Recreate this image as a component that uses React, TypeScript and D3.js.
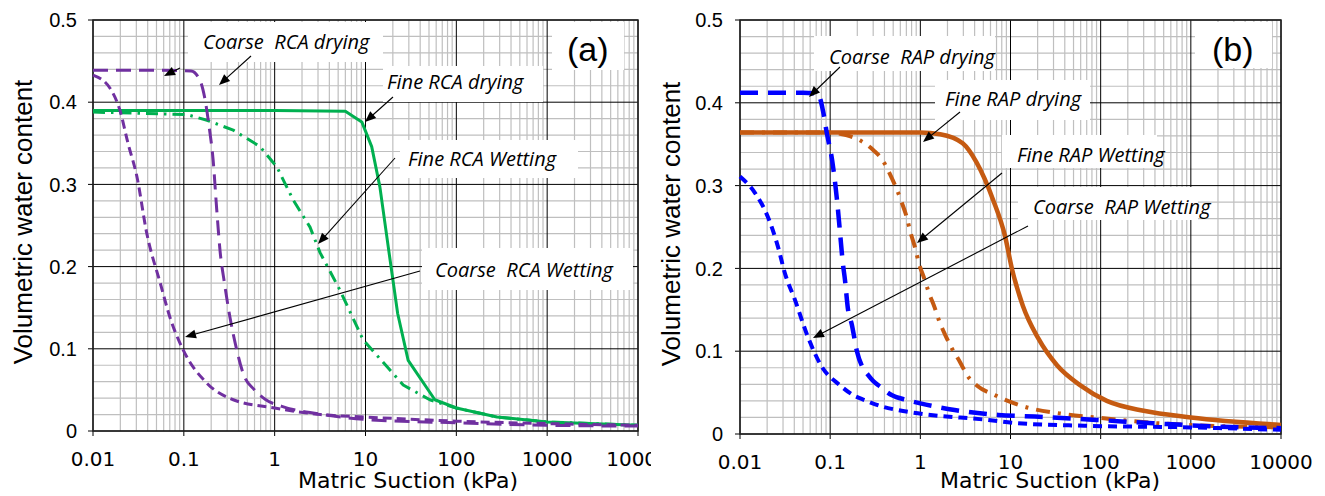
import React from "react";
import * as d3 from "d3";

// ---------- axis ticks ----------
const X_TICKS = [0.01, 0.1, 1, 10, 100, 1000, 10000];
const X_TICK_LABELS = ["0.01", "0.1", "1", "10", "100", "1000", "10000"];
const Y_TICKS = [0, 0.1, 0.2, 0.3, 0.4, 0.5];
const Y_TICK_LABELS = ["0", "0.1", "0.2", "0.3", "0.4", "0.5"];

// ---------- panel (a) RCA ----------
const coarseRcaDryingSuction = [0.01, 0.05, 0.12, 0.15, 0.17, 0.19, 0.21, 0.23, 0.25, 0.28, 0.32, 0.38, 0.45, 0.6, 0.8, 1.2, 3, 10, 100, 1000, 10000];
const coarseRcaDryingTheta = [0.439, 0.439, 0.438, 0.427, 0.405, 0.37, 0.33, 0.27, 0.22, 0.18, 0.14, 0.1, 0.07, 0.05, 0.038, 0.03, 0.021, 0.014, 0.01, 0.007, 0.006];

const coarseRcaWettingSuction = [0.01, 0.0154, 0.0198, 0.0243, 0.0305, 0.039, 0.055, 0.07, 0.098, 0.18, 0.35, 1, 3.2, 10, 100, 1000, 10000];
const coarseRcaWettingTheta = [0.433, 0.417, 0.39, 0.35, 0.309, 0.241, 0.18, 0.139, 0.099, 0.058, 0.038, 0.028, 0.02, 0.017, 0.012, 0.009, 0.007];

const fineRcaDryingSuction = [0.01, 1, 6, 9.1, 11.7, 14.4, 17.8, 22.6, 29.5, 58, 100, 280, 1000, 10000];
const fineRcaDryingTheta = [0.39, 0.39, 0.389, 0.376, 0.346, 0.297, 0.224, 0.143, 0.086, 0.038, 0.028, 0.017, 0.011, 0.007];

const fineRcaWettingSuction = [0.01, 0.108, 0.18, 0.35, 0.69, 1.06, 1.6, 2.45, 3.16, 5.2, 9.4, 26, 51, 100, 280, 1000, 10000];
const fineRcaWettingTheta = [0.388, 0.385, 0.378, 0.366, 0.346, 0.321, 0.281, 0.248, 0.217, 0.172, 0.111, 0.056, 0.038, 0.028, 0.017, 0.011, 0.007];

// ---------- panel (b) RAP ----------
const coarseRapDryingSuction = [0.01, 0.05, 0.073, 0.083, 0.092, 0.105, 0.119, 0.128, 0.138, 0.146, 0.157, 0.174, 0.198, 0.23, 0.26, 0.3, 0.36, 0.48, 0.71, 1, 2.4, 7.3, 18.6, 90, 380, 2000, 10000];
const coarseRapDryingTheta = [0.412, 0.412, 0.411, 0.391, 0.363, 0.331, 0.283, 0.246, 0.207, 0.186, 0.152, 0.132, 0.1, 0.08, 0.072, 0.064, 0.057, 0.047, 0.041, 0.037, 0.029, 0.023, 0.021, 0.017, 0.013, 0.009, 0.007];

const coarseRapWettingSuction = [0.01, 0.0147, 0.0204, 0.0264, 0.0315, 0.0407, 0.0567, 0.081, 0.128, 0.18, 0.24, 0.38, 0.56, 0.94, 5.6, 12, 66, 1000, 10000];
const coarseRapWettingTheta = [0.311, 0.291, 0.262, 0.226, 0.194, 0.162, 0.117, 0.081, 0.059, 0.047, 0.041, 0.033, 0.029, 0.025, 0.017, 0.013, 0.01, 0.008, 0.005];

const fineRapDryingSuction = [0.01, 1, 1.66, 2.95, 4.2, 6.4, 8.7, 10.4, 13.7, 20.2, 32.8, 59, 117, 300, 1000, 10000];
const fineRapDryingTheta = [0.364, 0.364, 0.362, 0.351, 0.328, 0.283, 0.239, 0.199, 0.155, 0.116, 0.083, 0.059, 0.04, 0.028, 0.02, 0.011];

const fineRapWettingSuction = [0.01, 0.1, 0.15, 0.22, 0.3, 0.38, 0.46, 0.55, 0.62, 0.71, 0.78, 0.87, 0.96, 1.12, 1.24, 1.45, 1.6, 1.88, 2.25, 2.75, 3.3, 4.3, 6.7, 13.3, 40, 88, 430, 10000];
const fineRapWettingTheta = [0.364, 0.364, 0.361, 0.354, 0.343, 0.331, 0.314, 0.295, 0.28, 0.261, 0.243, 0.226, 0.207, 0.186, 0.171, 0.152, 0.138, 0.12, 0.103, 0.087, 0.071, 0.058, 0.047, 0.034, 0.024, 0.02, 0.013, 0.008];

// ---------- annotation texts ----------
const rcaLabels = ["Coarse  RCA drying", "Fine RCA drying", "Fine RCA Wetting", "Coarse  RCA Wetting"];
const rapLabels = ["Coarse  RAP drying", "Fine RAP drying", "Fine RAP Wetting", "Coarse  RAP Wetting"];

const PURPLE = "#7030A0";
const GREEN = "#00B050";
const BLUE = "#0000FF";
const ORANGE = "#C55A11";

type Series = { xs: number[]; ys: number[]; color: string; width: number; dash?: string; curve: d3.CurveFactory };
type Box = { x: number; y: number; w: number; h: number };
type Arrow = [number, number, number, number];
type TextPos = { x: number; y: number };

type PanelProps = {
  L: number; R: number; T: number; B: number;
  series: Series[];
  labels: string[];
  labelPos: TextPos[];
  boxes: Box[];
  arrows: Arrow[];
  tag: string;
  tagPos: TextPos;
  tagBox: Box;
  yTitlePos: TextPos;
  xTitlePos: TextPos;
  xTickBaseline: number;
  yTickGap: number;
  clipRight: number;
  id: string;
};

function ArrowMark({ a }: { a: Arrow }) {
  const [x1, y1, x2, y2] = a;
  const dx = x2 - x1, dy = y2 - y1;
  const len = Math.hypot(dx, dy);
  const ux = dx / len, uy = dy / len;
  const hl = 11, hw = 4.5;
  const bx = x2 - ux * hl, by = y2 - uy * hl;
  const px = -uy, py = ux;
  const pts = `${x2},${y2} ${bx + px * hw},${by + py * hw} ${bx - px * hw},${by - py * hw}`;
  return (
    <g>
      <line x1={x1} y1={y1} x2={bx + ux * 2} y2={by + uy * 2} stroke="#000" strokeWidth={1.1} />
      <polygon points={pts} fill="#000" />
    </g>
  );
}

function Panel(p: PanelProps) {
  const x = d3.scaleLog().domain([0.01, 10000]).range([p.L, p.R]);
  const y = d3.scaleLinear().domain([0, 0.5]).range([p.B, p.T]);
  const minorX: number[] = [];
  for (let e = -2; e < 4; e++) for (let m = 2; m <= 9; m++) minorX.push(m * Math.pow(10, e));
  const minorY = d3.range(0, 26).filter((i) => i % 5 !== 0).map((i) => i * 0.02);

  return (
    <g clipPath={`url(#${p.id})`}>
      <defs>
        <clipPath id={p.id}>
          <rect x={p.L - 100} y={0} width={p.clipRight - (p.L - 100)} height={496} />
        </clipPath>
      </defs>
      {/* minor grid */}
      {minorX.map((v, i) => (
        <line key={"mx" + i} x1={x(v)} x2={x(v)} y1={p.T} y2={p.B} stroke="#BFBFBF" strokeWidth={1.2} />
      ))}
      {minorY.map((v, i) => (
        <line key={"my" + i} x1={p.L} x2={p.R} y1={y(v)} y2={y(v)} stroke="#BFBFBF" strokeWidth={1.2} />
      ))}
      {/* major grid */}
      {X_TICKS.map((v, i) => (
        <line key={"Mx" + i} x1={x(v)} x2={x(v)} y1={p.T} y2={p.B + 5} stroke="#000" strokeWidth={1} />
      ))}
      {Y_TICKS.map((v, i) => (
        <line key={"My" + i} x1={p.L - 5} x2={p.R} y1={y(v)} y2={y(v)} stroke="#000" strokeWidth={1} />
      ))}
      {/* frame */}
      <rect x={p.L} y={p.T} width={p.R - p.L} height={p.B - p.T} fill="none" stroke="#222" strokeWidth={1.5} />
      {/* white label boxes */}
      {p.boxes.map((b, i) => (
        <rect key={"b" + i} x={b.x} y={b.y} width={b.w} height={b.h} fill="#fff" />
      ))}
      <rect x={p.tagBox.x} y={p.tagBox.y} width={p.tagBox.w} height={p.tagBox.h} fill="#fff" />
      {/* curves */}
      {p.series.map((s, i) => {
        const line = d3
          .line<number>()
          .x((_, j) => x(s.xs[j]))
          .y((d) => y(d))
          .curve(s.curve);
        return (
          <path key={"s" + i} d={line(s.ys) || ""} fill="none" stroke={s.color} strokeWidth={s.width}
            strokeDasharray={s.dash} strokeLinejoin="round" />
        );
      })}
      {/* arrows */}
      {p.arrows.map((a, i) => <ArrowMark key={"a" + i} a={a} />)}
      {/* annotation texts */}
      {p.labels.map((t, i) => (
        <text key={"t" + i} x={p.labelPos[i].x} y={p.labelPos[i].y} fontFamily="'Open Sans', sans-serif"
          fontStyle="italic" fontSize={20} fill="#000" style={{ whiteSpace: "pre" }}>{t}</text>
      ))}
      <text x={p.tagPos.x} y={p.tagPos.y} fontFamily="'Liberation Sans', Arial, sans-serif" fontSize={34} fill="#000">{p.tag}</text>
      {/* tick labels */}
      {Y_TICKS.map((v, i) => (
        <text key={"yl" + i} x={p.L - p.yTickGap} y={y(v)} dy="0.36em" textAnchor="end"
          fontFamily="'Liberation Sans', Arial, sans-serif" fontSize={20} fill="#000">{Y_TICK_LABELS[i]}</text>
      ))}
      {X_TICKS.map((v, i) => (
        <text key={"xl" + i} x={x(v)} y={p.xTickBaseline} textAnchor="middle"
          fontFamily="'DejaVu Sans', Verdana, sans-serif" fontSize={20} fill="#000">{X_TICK_LABELS[i]}</text>
      ))}
      <text x={p.xTitlePos.x} y={p.xTitlePos.y} textAnchor="middle" fontFamily="'DejaVu Sans', Verdana, sans-serif"
        fontSize={22} fill="#000">Matric Suction (kPa)</text>
      <text transform={`translate(${p.yTitlePos.x},${p.yTitlePos.y}) rotate(-90)`} textAnchor="middle"
        fontFamily="'Liberation Sans', Arial, sans-serif" fontSize={26} fill="#000">Volumetric water content</text>
    </g>
  );
}

export default function App() {
  const seriesA: Series[] = [
    { xs: fineRcaWettingSuction, ys: fineRcaWettingTheta, color: GREEN, width: 3, dash: "12,6,2.5,6", curve: d3.curveLinear },
    { xs: fineRcaDryingSuction, ys: fineRcaDryingTheta, color: GREEN, width: 3, curve: d3.curveLinear },
    { xs: coarseRcaWettingSuction, ys: coarseRcaWettingTheta, color: PURPLE, width: 3, dash: "9,5", curve: d3.curveMonotoneX },
    { xs: coarseRcaDryingSuction, ys: coarseRcaDryingTheta, color: PURPLE, width: 3, dash: "15,8", curve: d3.curveMonotoneX },
  ];
  const seriesB: Series[] = [
    { xs: fineRapWettingSuction, ys: fineRapWettingTheta, color: ORANGE, width: 4, dash: "14,8,3,8", curve: d3.curveMonotoneX },
    { xs: fineRapDryingSuction, ys: fineRapDryingTheta, color: ORANGE, width: 4.5, curve: d3.curveMonotoneX },
    { xs: coarseRapWettingSuction, ys: coarseRapWettingTheta, color: BLUE, width: 4, dash: "9,6", curve: d3.curveMonotoneX },
    { xs: coarseRapDryingSuction, ys: coarseRapDryingTheta, color: BLUE, width: 4.5, dash: "18,10", curve: d3.curveMonotoneX },
  ];

  return (
    <svg width={1325} height={496} style={{ position: "absolute", left: 0, top: 0, background: "#fff" }}>
      <rect x={0} y={0} width={1325} height={496} fill="#fff" />
      <Panel
        id="clipA" L={93} R={638} T={20} B={431} series={seriesA}
        labels={rcaLabels}
        labelPos={[{ x: 203, y: 49 }, { x: 387, y: 89 }, { x: 408, y: 166 }, { x: 435, y: 277 }]}
        boxes={[{ x: 188, y: 22, w: 195, h: 40 }, { x: 383, y: 66, w: 160, h: 36 }, { x: 400, y: 140, w: 178, h: 38 }, { x: 422, y: 248, w: 211, h: 42 }]}
        arrows={[[180, 68, 164, 76], [251, 56, 219, 85], [393, 97, 365, 122], [395, 158, 318, 244], [420, 271, 185, 337]]}
        tag="(a)" tagPos={{ x: 567, y: 61 }} tagBox={{ x: 552, y: 22, w: 72, h: 48 }}
        yTitlePos={{ x: 32, y: 222 }} xTitlePos={{ x: 408, y: 488 }} xTickBaseline={466} yTickGap={16}
        clipRight={651}
      />
      <Panel
        id="clipB" L={740} R={1281} T={20} B={434} series={seriesB}
        labels={rapLabels}
        labelPos={[{ x: 829, y: 64 }, { x: 945, y: 106 }, { x: 1017, y: 162 }, { x: 1033, y: 214 }]}
        boxes={[{ x: 814, y: 36, w: 181, h: 35 }, { x: 935, y: 80, w: 155, h: 40 }, { x: 1002, y: 135, w: 155, h: 33 }, { x: 1018, y: 187, w: 180, h: 33 }]}
        arrows={[[840, 67, 809, 97], [960, 112, 923, 142], [1002, 173, 917, 243], [1028, 226, 813, 338]]}
        tag="(b)" tagPos={{ x: 1212, y: 61 }} tagBox={{ x: 1195, y: 22, w: 77, h: 46 }}
        yTitlePos={{ x: 680, y: 224 }} xTitlePos={{ x: 1050, y: 488 }} xTickBaseline={469} yTickGap={17}
        clipRight={1325}
      />
    </svg>
  );
}
